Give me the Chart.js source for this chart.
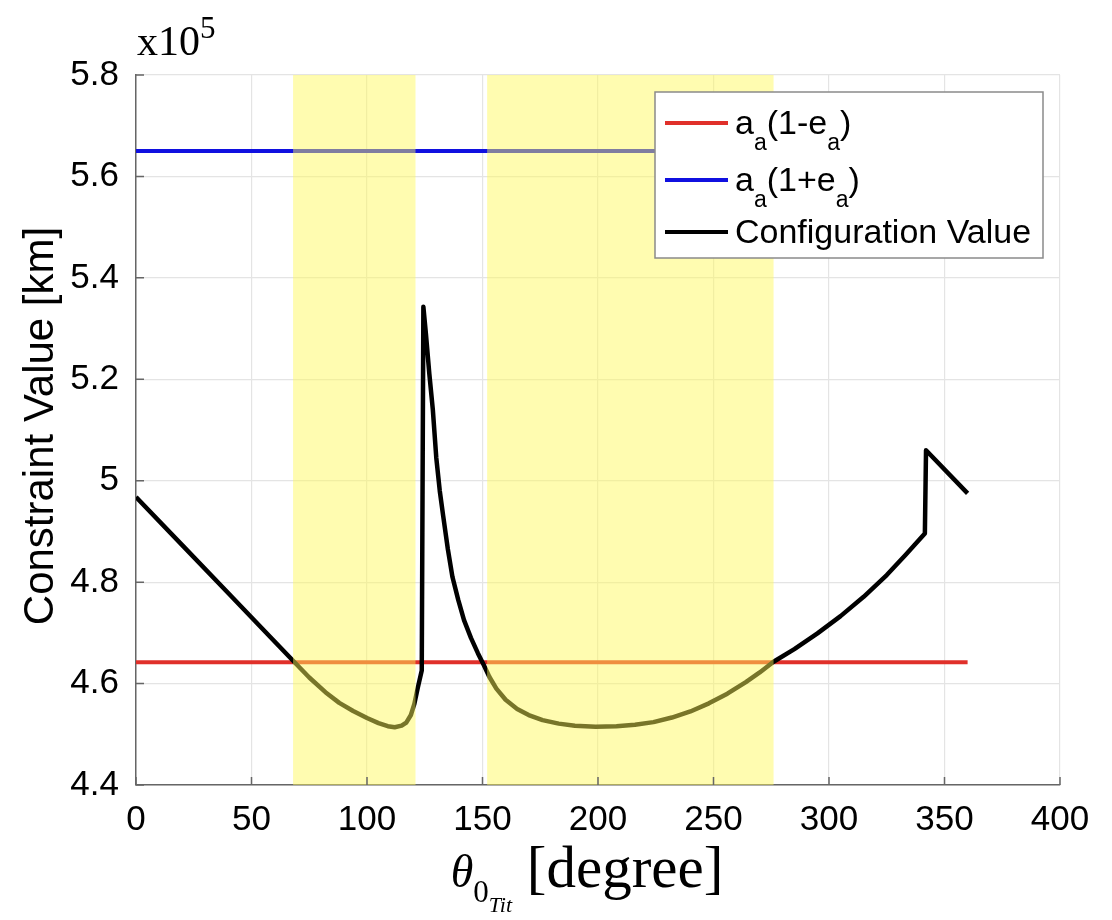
<!DOCTYPE html>
<html>
<head>
<meta charset="utf-8">
<script src="https://cdn.jsdelivr.net/npm/chart.js@4.4.1/dist/chart.umd.min.js"></script>
<style>
  body { margin: 0; background: #fff; }
  #wrap { width: 1112px; height: 920px; }
</style>
</head>
<body>
<div id="wrap"><canvas id="grafico" width="1112" height="920"></canvas></div>
<script>
// Dados (valores em x10^5 km)
const thetaDeg = [0, 20, 40, 60, 68, 75, 82, 88, 94, 100, 105, 109, 112, 115, 117, 119, 120.5, 122, 123.7,
  124.4, 125.5, 127, 128.5, 130, 131.5, 133, 135, 137, 139.5, 142, 145, 148, 150.5, 153, 156, 160, 165, 170,
  176, 183, 190, 199, 208, 216, 224, 232, 240, 248, 256, 264, 270, 276, 285, 295, 305, 315, 325, 333, 341.5,
  342, 360];
const configValue = [4.968, 4.873, 4.778, 4.683, 4.645, 4.612, 4.583, 4.562, 4.546, 4.532, 4.522, 4.516, 4.514,
  4.517, 4.523, 4.538, 4.560, 4.592, 4.626,
  5.343, 5.29, 5.21, 5.14, 5.045, 4.98, 4.93, 4.865, 4.81, 4.765, 4.725, 4.69, 4.66, 4.637, 4.613, 4.590, 4.568,
  4.550, 4.538, 4.528, 4.521, 4.517, 4.515, 4.516, 4.519, 4.524, 4.533, 4.545, 4.561, 4.580, 4.603, 4.622, 4.643,
  4.668, 4.699, 4.733, 4.771, 4.814, 4.853, 4.896,
  5.060, 4.975];
const limitRange = [0, 360];
const periValue = 4.642;   // a_a(1-e_a)
const apoValue = 5.650;    // a_a(1+e_a)
const bandStart = [68, 152];
const bandEnd = [121, 276];
const legendNames = [
  [["a", 0], ["a", 1], ["(1-e", 0], ["a", 1], [")", 0]],
  [["a", 0], ["a", 1], ["(1+e", 0], ["a", 1], [")", 0]],
  [["Configuration Value", 0]]
];
const legendColors = ["#e0302a", "#1010e0", "#000000"];
const yTitle = "Constraint Value [km]";

const SANS = "'Liberation Sans', Arial, sans-serif";
const SERIF = "'Liberation Serif', 'Times New Roman', serif";

// Faixas amarelas por cima das linhas
const faixas = {
  id: "faixas",
  afterDatasetsDraw(chart) {
    const { ctx, chartArea, scales } = chart;
    ctx.save();
    ctx.fillStyle = "rgba(255, 249, 87, 0.47)";
    for (let i = 0; i < bandStart.length; i++) {
      const x0 = scales.x.getPixelForValue(bandStart[i]);
      const x1 = scales.x.getPixelForValue(bandEnd[i]);
      ctx.fillRect(x0, chartArea.top, x1 - x0, chartArea.bottom - chartArea.top);
    }
    // marcas dos ticks para dentro
    ctx.strokeStyle = "#666";
    ctx.lineWidth = 1.5;
    ctx.beginPath();
    scales.x.ticks.forEach(t => {
      const px = scales.x.getPixelForValue(t.value);
      ctx.moveTo(px, chartArea.bottom);
      ctx.lineTo(px, chartArea.bottom - 8);
    });
    scales.y.ticks.forEach(t => {
      const py = scales.y.getPixelForValue(t.value);
      ctx.moveTo(chartArea.left, py);
      ctx.lineTo(chartArea.left + 8, py);
    });
    ctx.stroke();
    ctx.restore();
  }
};

function desenhaTexto(ctx, x, y, partes) {
  // partes: [texto, fonte, deslocamento vertical]
  partes.forEach(p => {
    ctx.font = p[1];
    ctx.fillText(p[0], x, y + p[2]);
    x += ctx.measureText(p[0]).width;
  });
  return x;
}

function larguraTexto(ctx, partes) {
  let w = 0;
  partes.forEach(p => { ctx.font = p[1]; w += ctx.measureText(p[0]).width; });
  return w;
}

// Legenda e títulos com subscritos
const anotacoes = {
  id: "anotacoes",
  afterDraw(chart) {
    const { ctx, chartArea } = chart;
    ctx.save();
    ctx.fillStyle = "#000";
    ctx.textBaseline = "alphabetic";
    ctx.textAlign = "left";

    // legenda
    const lw = 388, lh = 166;
    const lx = chartArea.right - 17 - lw, ly = chartArea.top + 17;
    ctx.fillStyle = "#fff";
    ctx.fillRect(lx, ly, lw, lh);
    ctx.strokeStyle = "#8a8a8a";
    ctx.lineWidth = 1.5;
    ctx.strokeRect(lx, ly, lw, lh);
    const rows = [31, 88, 140];
    legendNames.forEach((nome, i) => {
      const ry = ly + rows[i];
      ctx.strokeStyle = legendColors[i];
      ctx.lineWidth = 4;
      ctx.beginPath();
      ctx.moveTo(lx + 10, ry);
      ctx.lineTo(lx + 73, ry);
      ctx.stroke();
      ctx.fillStyle = "#000";
      const partes = nome.map(n => n[1] ? [n[0], "23px " + SANS, 16] : [n[0], "34px " + SANS, 0]);
      desenhaTexto(ctx, lx + 80, ry + 11, partes);
    });

    // x10^5
    desenhaTexto(ctx, 137, 55, [["x10", "42px " + SERIF, 0], ["5", "31px " + SERIF, -17]]);

    // título do eixo y
    ctx.save();
    ctx.translate(53, 426);
    ctx.rotate(-Math.PI / 2);
    ctx.textAlign = "center";
    ctx.font = "42px " + SANS;
    ctx.fillText(yTitle, 0, 0);
    ctx.restore();

    // título do eixo x
    const tituloX = [
      ["θ", "italic 46px " + SERIF, 0],
      ["0", "31px " + SERIF, 15],
      ["Tit", "italic 22px " + SERIF, 25],
      [" [degree]", "59px " + SERIF, 0]
    ];
    const w = larguraTexto(ctx, tituloX);
    desenhaTexto(ctx, 587 - w / 2, 887, tituloX);
    ctx.restore();
  }
};

const ctx = document.getElementById("grafico").getContext("2d");
const grafico = new Chart(ctx, {
  type: "line",
  data: {
    datasets: [
      {
        label: "a_a(1-e_a)",
        data: limitRange.map(x => ({ x, y: periValue })),
        borderColor: legendColors[0],
        borderWidth: 4,
        pointRadius: 0,
        order: 1
      },
      {
        label: "a_a(1+e_a)",
        data: limitRange.map(x => ({ x, y: apoValue })),
        borderColor: legendColors[1],
        borderWidth: 4,
        pointRadius: 0,
        order: 2
      },
      {
        label: "Configuration Value",
        data: thetaDeg.map((x, i) => ({ x, y: configValue[i] })),
        borderColor: legendColors[2],
        borderWidth: 4.5,
        borderJoinStyle: "round",
        pointRadius: 0,
        tension: 0,
        order: 0
      }
    ]
  },
  options: {
    responsive: false,
    animation: false,
    layout: { padding: { top: 75, right: 52, left: 0, bottom: 0 } },
    plugins: { legend: { display: false }, tooltip: { enabled: false } },
    scales: {
      x: {
        type: "linear",
        min: 0,
        max: 400,
        ticks: { stepSize: 50, color: "#000", font: { family: SANS, size: 35 }, padding: 14, maxRotation: 0 },
        grid: { color: "#e4e4e4", lineWidth: 1.2, drawTicks: false },
        border: { color: "#666", width: 1.5 },
        afterFit(s) { s.height = 135; }
      },
      y: {
        min: 4.4,
        max: 5.8,
        ticks: {
          stepSize: 0.2,
          color: "#000",
          font: { family: SANS, size: 35 },
          padding: 17,
          callback: v => String(Number(v.toFixed(1)))
        },
        grid: { color: "#e4e4e4", lineWidth: 1.2, drawTicks: false },
        border: { color: "#666", width: 1.5 },
        afterFit(s) { s.width = 136; }
      }
    }
  },
  plugins: [faixas, anotacoes]
});
</script>
</body>
</html>
